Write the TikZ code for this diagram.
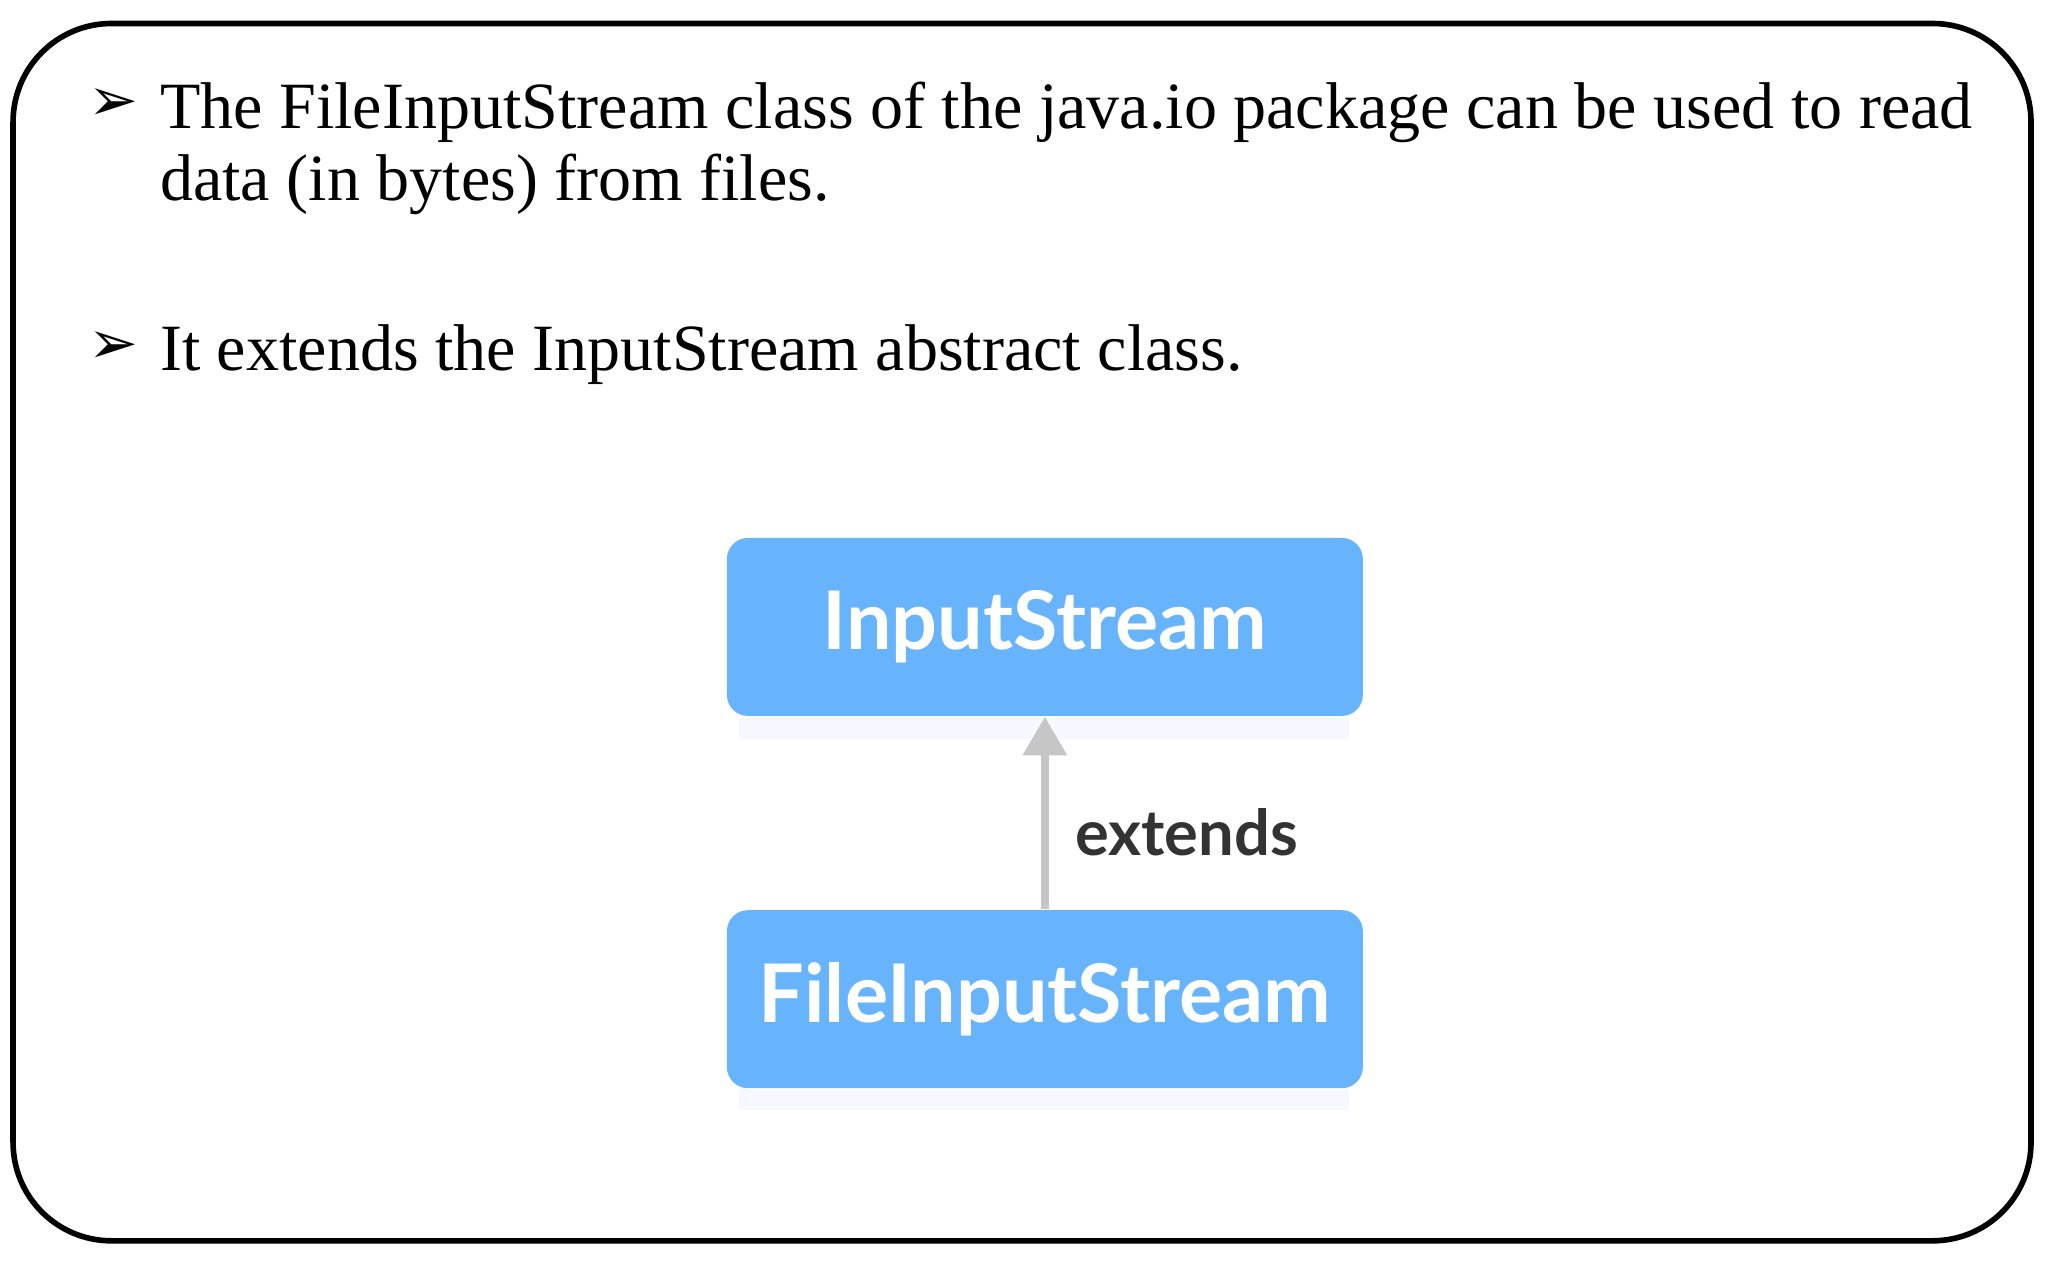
\documentclass[tikz,border=0pt]{standalone}
\usepackage{fontspec}
\setmainfont{Liberation Serif}
\newfontfamily\boxfont{Lato}
\newfontfamily\symfont{DejaVu Sans}
\usetikzlibrary{arrows.meta}

\tikzset{
  classbox/.style={fill={rgb,255:red,104;green,180;blue,252}, text=white, rounded corners=6pt,
    minimum width=6.36cm, minimum height=1.78cm, font=\boxfont\bfseries\fontsize{23}{28}\selectfont},
  bullettext/.style={anchor=north west, align=flush left, text width=19cm, inner sep=0pt,
    font=\fontsize{18.8}{20.5}\selectfont},
}

\begin{document}
\begin{tikzpicture}[x=0.01306cm, y=-0.01306cm]
  \useasboundingbox (0,0) rectangle (1568,972);
  % frame
  \draw[line width=1.6pt, rounded corners=28pt] (10,18) rectangle (1555,950);

  % bullets
  \node[font=\symfont\fontsize{17}{20}\selectfont] (mark1) at (87,80) {➢};
  \node[bullettext] (line1) at (122,62)
    {The FileInputStream class of the java.io package can be used to read\\data (in bytes) from files.};
  \node[font=\symfont\fontsize{17}{20}\selectfont] (mark2) at (87,266) {➢};
  \node[bullettext] (line2) at (122,248) {It extends the InputStream abstract class.};

  % shadows
  \fill[blue!3] (566,550) rectangle (1033,566);
  \fill[blue!3] (566,834) rectangle (1033,850);

  % classes
  \node[classbox] (base) at (800,480) {InputStream};
  \node[classbox] (sub) at (800,765) {FileInputStream};

  \draw[line width=2.5pt, gray!45, -{Triangle[width=12pt,length=11pt]}] (sub.north) -- (base.south)
    node[pos=0.4, right=4pt, text=black!80, font=\boxfont\bfseries\fontsize{18}{22}\selectfont] {extends};
\end{tikzpicture}
\end{document}
